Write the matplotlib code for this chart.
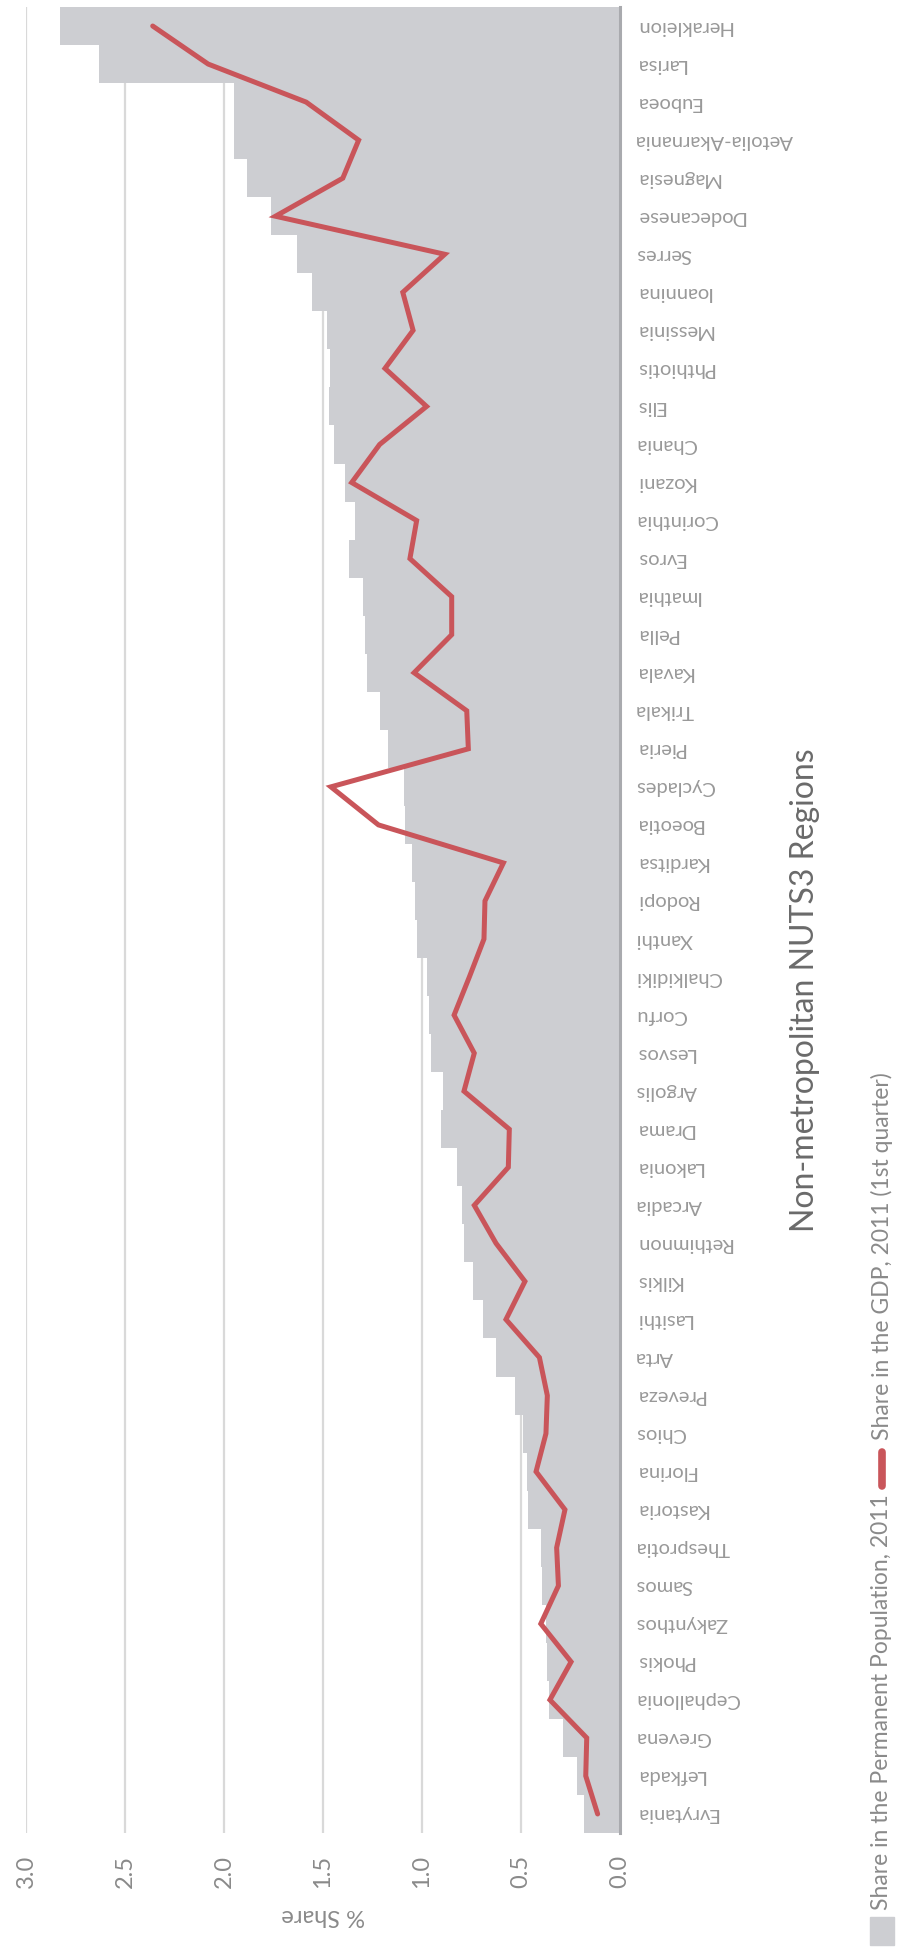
import matplotlib
matplotlib.use("Agg")
import matplotlib.pyplot as plt
import numpy as np
from matplotlib.patches import Rectangle
from matplotlib.lines import Line2D

plt.rcParams['font.family'] = ['Lato', 'DejaVu Sans']

# regions, listed top to bottom as in the chart
regions = ["Herakleion", "Larisa", "Euboea", "Aetolia-Akarnania", "Magnesia",
           "Dodecanese", "Serres", "Ioannina", "Messinia", "Phthiotis", "Elis",
           "Chania", "Kozani", "Corinthia", "Evros", "Imathia", "Pella", "Kavala",
           "Trikala", "Pieria", "Cyclades", "Boeotia", "Karditsa", "Rodopi",
           "Xanthi", "Chalkidiki", "Corfu", "Lesvos", "Argolis", "Drama",
           "Lakonia", "Arcadia", "Rethimnon", "Kilkis", "Lasithi", "Arta",
           "Preveza", "Chios", "Florina", "Kastoria", "Thesprotia", "Samos",
           "Zakynthos", "Phokis", "Cephallonia", "Grevena", "Lefkada", "Evrytania"]

# share in the permanent population, 2011 (%)
pop_share = [2.83, 2.63, 1.95, 1.95, 1.885, 1.765, 1.63, 1.555, 1.48, 1.465, 1.47,
             1.445, 1.39, 1.34, 1.37, 1.30, 1.29, 1.28, 1.21, 1.17, 1.09, 1.088,
             1.05, 1.037, 1.027, 0.976, 0.963, 0.956, 0.896, 0.906, 0.822, 0.80,
             0.79, 0.74, 0.694, 0.626, 0.53, 0.488, 0.471, 0.463, 0.40, 0.392,
             0.374, 0.367, 0.357, 0.29, 0.215, 0.182]

# share in the GDP, 2011 1st quarter (%)
gdp_share = [2.36, 2.08, 1.585, 1.32, 1.40, 1.74, 0.885, 1.097, 1.045, 1.187, 0.977,
             1.214, 1.355, 1.027, 1.061, 0.85, 0.85, 1.04, 0.774, 0.766, 1.46, 1.22,
             0.589, 0.682, 0.687, 0.761, 0.838, 0.736, 0.788, 0.559, 0.564, 0.736,
             0.626, 0.48, 0.576, 0.407, 0.367, 0.374, 0.424, 0.278, 0.32, 0.311,
             0.40, 0.247, 0.354, 0.168, 0.173, 0.113]

x_ticks = [0.0, 0.5, 1.0, 1.5, 2.0, 2.5, 3.0]

bar_color = '#cdced2'
line_color = '#c9555a'
text_color = '#8a8a8a'
W, H = 899, 1950

fig = plt.figure(figsize=(W / 100, H / 100), dpi=100)
ax = fig.add_axes([26 / W, (H - 1833) / H, 594 / W, 1826 / H])

n = len(regions)
ypos = np.arange(n)[::-1]

ax.barh(ypos, pop_share, height=1.0, color=bar_color, zorder=2)
ax.plot(gdp_share, ypos, color=line_color, lw=3.6, solid_capstyle='round',
        solid_joinstyle='miter', zorder=3)

ax.set_xlim(3.0, 0.0)
ax.set_ylim(-0.5, n - 0.5)

# grid and axis line
ax.set_xticks(x_ticks)
ax.set_xticklabels([f"{t:.1f}" for t in x_ticks])
ax.xaxis.grid(True, color='#d9d9d9', lw=1.6, zorder=0)
ax.set_axisbelow(True)
for s in ['top', 'bottom', 'left']:
    ax.spines[s].set_visible(False)
ax.spines['right'].set_color('#a9aaae')
ax.spines['right'].set_linewidth(2.2)
ax.spines['right'].set_zorder(4)

ax.tick_params(axis='x', length=0, pad=16, labelsize=17, labelcolor=text_color,
               labelrotation=90)

ax.yaxis.tick_right()
ax.set_yticks(ypos)
ax.set_yticklabels(regions)
ax.tick_params(axis='y', length=0, pad=11, labelsize=14.5, labelcolor='#999999',
               labelrotation=180)
for lbl in ax.get_yticklabels():
    lbl.set_ha('left')
    lbl.set_va('center')

ax.set_xlabel('% Share', fontsize=17, color=text_color, rotation=180, labelpad=12)

# title, rotated
fig.text(805 / W, 1 - 990 / H, 'Non-metropolitan NUTS3 Regions', rotation=90,
         ha='center', va='center', fontsize=23, color='#6a6a6a')

# legend, drawn by hand so it can be rotated
lx = 882 / W
fig.patches.append(Rectangle((lx - 12 / W, 1 - 1945 / H), 24 / W, 28 / H,
                             transform=fig.transFigure, color=bar_color))
fig.text(lx, 1 - 1910 / H, 'Share in the Permanent Population, 2011', rotation=90,
         ha='center', va='bottom', fontsize=16.5, color=text_color)
fig.lines.append(Line2D([lx, lx], [1 - 1486 / H, 1 - 1452 / H],
                        transform=fig.transFigure, color=line_color, lw=5.5,
                        solid_capstyle='round'))
fig.text(lx, 1 - 1440 / H, 'Share in the GDP, 2011 (1st quarter)', rotation=90,
         ha='center', va='bottom', fontsize=16.5, color=text_color)

fig.savefig('out.png', dpi=100)
